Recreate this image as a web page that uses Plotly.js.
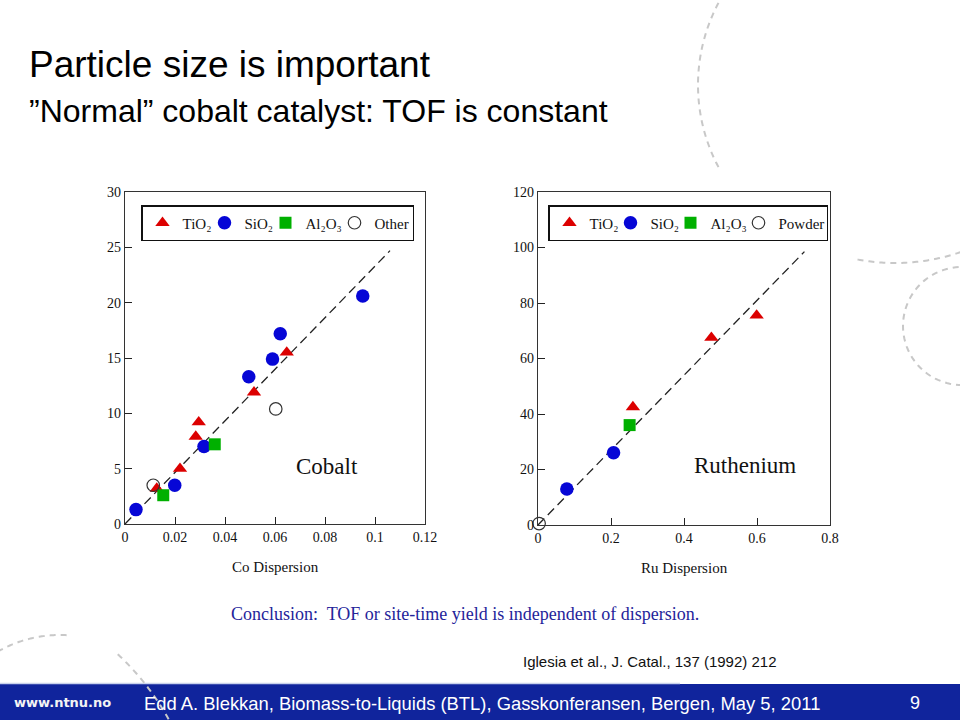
<!DOCTYPE html>
<html>
<head>
<meta charset="utf-8">
<script src="https://cdn.plot.ly/plotly-3.0.1.min.js"></script>
<style>html,body{margin:0;padding:0;background:#fff;}#chart{width:960px;height:720px;}</style>
</head>
<body>
<div id="chart"></div>
<script>
// ---------- Data ----------
// Cobalt panel: TOF vs Co dispersion
const coTiO2X = [0.0127, 0.0220, 0.0283, 0.0295, 0.0516, 0.0647];
const coTiO2Y = [3.2, 5.0, 7.9, 9.2, 11.9, 15.5];
const coSiO2X = [0.0044, 0.0199, 0.0316, 0.0495, 0.0590, 0.0621, 0.0951];
const coSiO2Y = [1.3, 3.5, 7.0, 13.3, 14.9, 17.2, 20.6];
const coAl2O3X = [0.0153, 0.0359];
const coAl2O3Y = [2.6, 7.2];
const coOtherX = [0.0113, 0.0603];
const coOtherY = [3.5, 10.4];
const coFitX = [0, 0.106];
const coFitY = [0, 24.7];

// Ruthenium panel: TOF vs Ru dispersion
const ruTiO2X = [0.260, 0.475, 0.599];
const ruTiO2Y = [42.5, 67.5, 75.5];
const ruSiO2X = [0.079, 0.207];
const ruSiO2Y = [13, 26];
const ruAl2O3X = [0.251];
const ruAl2O3Y = [36];
const ruPowderX = [0.003];
const ruPowderY = [0.5];
const ruFitX = [0, 0.73];
const ruFitY = [0, 98.5];

// Legend / axis labels
const seriesNames = ['TiO\u2082', 'SiO\u2082', 'Al\u2082O\u2083'];
const coOtherName = 'Other';
const ruOtherName = 'Powder';
const coXTicks = [0, 0.02, 0.04, 0.06, 0.08, 0.1, 0.12];
const coYTicks = [0, 5, 10, 15, 20, 25, 30];
const ruXTicks = [0, 0.2, 0.4, 0.6, 0.8];
const ruYTicks = [0, 20, 40, 60, 80, 100, 120];

// ---------- Styling ----------
const W = 960, H = 720;
const px = v => v / W;
const py = v => 1 - v / H;
const SERIF = 'Liberation Serif, Times New Roman, serif';
const SANS = 'Liberation Sans, Arial, sans-serif';
const RED = '#dc0000', BLUE = '#0606d6', GREEN = '#00b000';

function fitLine(x, y, xa, ya) {
  return {x: x, y: y, xaxis: xa, yaxis: ya, mode: 'lines', showlegend: false, hoverinfo: 'skip',
    line: {color: '#222', width: 1.3, dash: '9px,5px'}, cliponaxis: false};
}
function pts(x, y, xa, ya, name, legend, marker, lw) {
  return {x: x, y: y, xaxis: xa, yaxis: ya, mode: 'markers', name: name, legend: legend,
    legendwidth: lw, marker: marker, cliponaxis: false};
}
const triM = {symbol: 'triangle-up', size: 12.5, color: RED};
const cirM = {symbol: 'circle', size: 13.5, color: BLUE};
const sqM = {symbol: 'square', size: 12, color: GREEN};
const openM = {symbol: 'circle-open', size: 12.5, color: '#333', line: {width: 1.2, color: '#333'}};

const data = [
  fitLine(coFitX, coFitY, 'x', 'y'),
  pts(coTiO2X, coTiO2Y, 'x', 'y', seriesNames[0], 'legend', triM, 17),
  pts(coSiO2X, coSiO2Y, 'x', 'y', seriesNames[1], 'legend', cirM, 16),
  pts(coAl2O3X, coAl2O3Y, 'x', 'y', seriesNames[2], 'legend', sqM, 24),
  pts(coOtherX, coOtherY, 'x', 'y', coOtherName, 'legend', openM, 33),
  fitLine(ruFitX, ruFitY, 'x2', 'y2'),
  pts(ruTiO2X, ruTiO2Y, 'x2', 'y2', seriesNames[0], 'legend2', triM, 16),
  pts(ruSiO2X, ruSiO2Y, 'x2', 'y2', seriesNames[1], 'legend2', cirM, 15),
  pts(ruAl2O3X, ruAl2O3Y, 'x2', 'y2', seriesNames[2], 'legend2', sqM, 23),
  pts(ruPowderX, ruPowderY, 'x2', 'y2', ruOtherName, 'legend2', openM, 43)
];

function axis(domain, range, ticks, anchor, title) {
  const a = {domain: domain, range: range, tickvals: ticks, ticktext: ticks.map(String), anchor: anchor,
    ticks: 'inside', ticklen: 7, tickwidth: 1, tickcolor: '#222',
    showline: true, mirror: true, linecolor: '#333', linewidth: 1.3,
    showgrid: false, zeroline: false, fixedrange: true,
    tickfont: {family: SERIF, size: 14, color: '#111'}};
  if (title) a.title = {text: title, font: {family: SERIF, size: 15, color: '#111'}, standoff: 17};
  return a;
}

function arcPath(cx, cy, r, a0, a1) {
  const n = 60; let s = '';
  for (let i = 0; i <= n; i++) {
    const a = (a0 + (a1 - a0) * i / n) * Math.PI / 180;
    s += (i ? 'L' : 'M') + px(cx + r * Math.cos(a)).toFixed(5) + ',' + py(cy + r * Math.sin(a)).toFixed(5);
  }
  return s;
}
const arcLine = {color: '#c8c8c8', width: 2, dash: '6px,5px'};
function arcShape(cx, cy, r, a0, a1) {
  return {type: 'path', xref: 'paper', yref: 'paper', path: arcPath(cx, cy, r, a0, a1), line: arcLine, layer: 'above'};
}

function legendBox(xLeft) {
  return {x: px(xLeft), xanchor: 'left', y: py(205), yanchor: 'top', orientation: 'h',
    bgcolor: '#fff', bordercolor: '#111', borderwidth: 1.5, itemwidth: 30,
    font: {family: SERIF, size: 15, color: '#111'}, tracegroupgap: 0};
}

function ann(text, x, y, xanchor, font, extra) {
  return Object.assign({text: text, x: px(x), y: py(y), xref: 'paper', yref: 'paper',
    xanchor: xanchor, yanchor: 'middle', showarrow: false, font: font}, extra || {});
}

const layout = {
  width: W, height: H, margin: {l: 0, r: 0, t: 0, b: 0},
  paper_bgcolor: '#fff', plot_bgcolor: 'rgba(0,0,0,0)', showlegend: true,
  xaxis: axis([px(125), px(425)], [0, 0.12], coXTicks, 'y', 'Co Dispersion'),
  yaxis: axis([py(524), py(192)], [0, 30], coYTicks, 'x'),
  xaxis2: axis([px(538), px(830)], [0, 0.8], ruXTicks, 'y2', 'Ru Dispersion'),
  yaxis2: axis([py(525), py(192)], [0, 120], ruYTicks, 'x2'),
  legend: legendBox(141),
  legend2: legendBox(548),
  shapes: [
    {type: 'rect', xref: 'paper', yref: 'paper', x0: 0, x1: 1, y0: 0, y1: py(684), fillcolor: '#10249c', line: {width: 0}, layer: 'below'},
    {type: 'line', xref: 'paper', yref: 'paper', x0: 0, x1: px(680), y0: py(683.5), y1: py(683.5), line: {color: '#c9d2ec', width: 1.5}, layer: 'below'},
    arcShape(873, 85, 175, 152, 209),
    arcShape(895, 60, 203, 71, 102),
    arcShape(962, 326, 59, 90, 270),
    arcShape(60, 760, 125, -125, -85),
    arcShape(-63, 848, 265, -47, -26)
  ],
  annotations: [
    ann('Particle size is important', 27, 64, 'left', {family: SANS, size: 37, color: '#000'}),
    ann('\u201DNormal\u201D cobalt catalyst: TOF is constant', 27, 111, 'left', {family: SANS, size: 32, color: '#000'}),
    ann('Cobalt', 327, 466, 'center', {family: SERIF, size: 23, color: '#111'}),
    ann('Ruthenium', 745, 465, 'center', {family: SERIF, size: 23, color: '#111'}),
    ann('Conclusion:\u00A0 TOF or site-time yield is independent of dispersion.', 465, 614, 'center', {family: SERIF, size: 18, color: '#24249a'}),
    ann('Iglesia et al., J. Catal., 137 (1992) 212', 521, 661, 'left', {family: SANS, size: 15, color: '#111'}),
    ann('<b>www.ntnu.no</b>', 12, 702, 'left', {family: 'DejaVu Sans, Verdana, sans-serif', size: 13, color: '#f4f4f4'}),
    ann('Edd A. Blekkan, Biomass-to-Liquids (BTL), Gasskonferansen, Bergen, May 5, 2011', 142, 703, 'left', {family: SANS, size: 18.4, color: '#fff'}),
    ann('9', 915, 703, 'center', {family: SANS, size: 18, color: '#fff'})
  ]
};

Plotly.newPlot('chart', data, layout, {displayModeBar: false, staticPlot: true});
</script>
</body>
</html>
